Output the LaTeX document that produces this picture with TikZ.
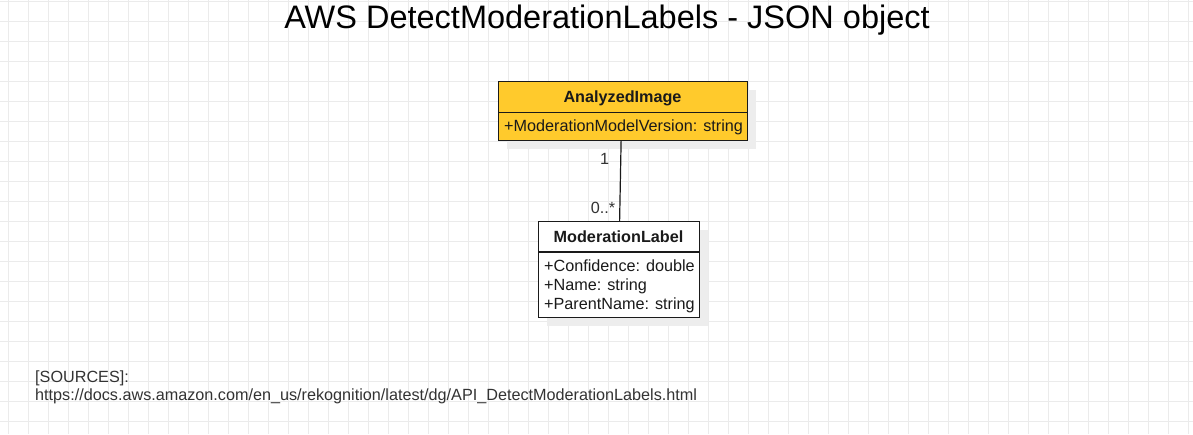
\documentclass[tikz,border=0pt]{standalone}
\usepackage{fontspec}
\setmainfont{Liberation Sans}
\usetikzlibrary{shadows}
\definecolor{gridc}{HTML}{EBEBEB}
\definecolor{classy}{HTML}{FFCA2C}
\definecolor{shad}{HTML}{EDEDED}
\definecolor{txt}{HTML}{1A1A1A}
\definecolor{txtg}{HTML}{333333}
\tikzset{
  classbox/.style={draw=txt, line width=1.2pt, inner sep=0pt, anchor=north west,
    drop shadow={shadow xshift=8pt, shadow yshift=-8pt, fill=shad, opacity=1}},
  divider/.style={draw=txt, line width=1.2pt},
  headtxt/.style={anchor=base, inner sep=0pt, text=txt, font=\bfseries\fontsize{16.2}{19}\selectfont},
  attrtxt/.style={anchor=base west, inner sep=0pt, text=txt, font=\fontsize{16.2}{19}\selectfont},
  multtxt/.style={anchor=base, inner sep=0pt, text=txtg, font=\fontsize{16.2}{19}\selectfont},
  srctxt/.style={anchor=base west, inner sep=0pt, text=txtg, font=\fontsize{16.2}{19}\selectfont},
  assoc/.style={draw=txt, line width=1.2pt},
}
\begin{document}
\begin{tikzpicture}[x=1pt,y=-1pt]
\useasboundingbox (0,0) rectangle (1193,434);
\fill[white] (0,0) rectangle (1193,434);
\foreach \x in {8,28,...,1188} \draw[gridc, line width=1pt] (\x,0) -- (\x,434);
\foreach \y in {1,21,...,421} \draw[gridc, line width=1pt] (0,\y) -- (1193,\y);

% title
\node[anchor=base, inner sep=0pt, text=black, font=\fontsize{32.5}{38}\selectfont] (title) at (607,28) {AWS DetectModerationLabels - JSON object};

% AnalyzedImage
\node[classbox, fill=classy, minimum width=249pt, minimum height=59pt] (aimg) at (498,81) {};
\draw[divider] ([yshift=-31.5pt]aimg.north west) -- ([yshift=-31.5pt]aimg.north east);
\node[headtxt] (aimgname) at (622.5,102) {AnalyzedImage};
\node[attrtxt] (aimgattr) at (504,131.5) {+ModerationModelVersion: string};

% ModerationLabel
\node[classbox, fill=white, minimum width=161pt, minimum height=96pt] (mlab) at (538,221) {};
\draw[divider] ([yshift=-31pt]mlab.north west) -- ([yshift=-31pt]mlab.north east);
\node[headtxt] (mlabname) at (618.5,242) {ModerationLabel};
\node[attrtxt] (mlaba1) at (544,271) {+Confidence: double};
\node[attrtxt] (mlaba2) at (544,290) {+Name: string};
\node[attrtxt] (mlaba3) at (544,309) {+ParentName: string};

% association
\draw[assoc] ([xshift=-2pt]aimg.south) -- ([xshift=0.5pt]mlab.north);
\node[multtxt] (m1) at (604.5,164) {1};
\node[multtxt] (m2) at (603,213) {0..*};

% sources
\node[srctxt] (src1) at (35,382) {[SOURCES]:};
\node[srctxt] (src2) at (35,400) {https://docs.aws.amazon.com/en\_us/rekognition/latest/dg/API\_DetectModerationLabels.html};
\end{tikzpicture}
\end{document}
